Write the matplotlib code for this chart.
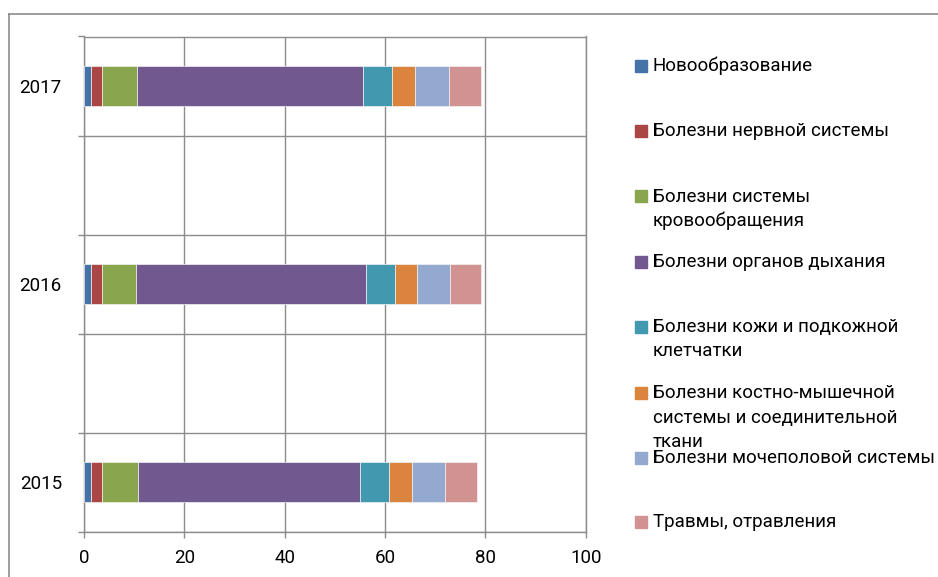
import matplotlib
matplotlib.use("Agg")
import matplotlib.pyplot as plt
from matplotlib.lines import Line2D
from matplotlib.patches import Rectangle
import numpy as np

plt.rcParams['font.family'] = ['Roboto', 'DejaVu Sans']

years = ['2015', '2016', '2017']
series_names = [
    'Новообразование',
    'Болезни нервной системы',
    'Болезни системы\nкровообращения',
    'Болезни органов дыхания',
    'Болезни кожи и подкожной\nклетчатки',
    'Болезни костно-мышечной\nсистемы и соединительной\nткани',
    'Болезни мочеполовой системы',
    'Травмы, отравления',
]
neoplasm    = [1.46, 1.46, 1.46]
nervous     = [2.20, 2.20, 2.20]
circulatory = [7.04, 6.64, 6.84]
respiratory = [44.33, 46.00, 45.20]
skin        = [5.79, 5.78, 5.72]
musculo     = [4.52, 4.39, 4.58]
urogenital  = [6.71, 6.58, 6.85]
injuries    = [6.32, 6.11, 6.31]
series_values = [neoplasm, nervous, circulatory, respiratory, skin, musculo, urogenital, injuries]
colors = ['#4572A7', '#AA4643', '#89A54E', '#71588F', '#4198AF', '#DB843D', '#93A9CF', '#D19392']
x_ticks = [0, 20, 40, 60, 80, 100]

W, H = 938, 577
fig = plt.figure(figsize=(W / 100, H / 100), dpi=100)
ax = fig.add_axes([84 / W, 1 - 531.7 / H, (585.7 - 84) / W, (531.7 - 36.5) / H])

ypos = np.arange(len(years))
left = np.zeros(len(years))
for vals, col in zip(series_values, colors):
    ax.barh(ypos, vals, left=left, height=0.2, color=col, edgecolor='#f2f2f2', linewidth=0.5, zorder=3)
    left += np.array(vals)

grid_col = '#8c8c8c'
ax.set_xlim(0, 100)
ax.set_ylim(-0.25, 2.25)
ax.set_xticks(x_ticks)
ax.set_xticklabels([str(v) for v in x_ticks])
ax.set_yticks(ypos)
ax.set_yticklabels(years)
ax.set_yticks(np.arange(-0.25, 2.3, 0.5), minor=True)
ax.tick_params(axis='y', which='major', length=0, pad=16, labelsize=13.5)
ax.tick_params(axis='y', which='minor', length=4.5, width=1, color=grid_col)
ax.tick_params(axis='x', which='major', length=4.5, width=1, color=grid_col, pad=8, labelsize=13.5)
ax.grid(True, axis='x', which='major', color=grid_col, linewidth=1, zorder=0)
ax.grid(True, axis='y', which='minor', color=grid_col, linewidth=1, zorder=0)
for s in ax.spines.values():
    s.set_color(grid_col)
    s.set_linewidth(1)

# outer chart border (top and left)
fig.add_artist(Line2D([9 / W, 1.0], [1 - 14 / H, 1 - 14 / H], color='#8c8c8c', linewidth=1.2, transform=fig.transFigure))
fig.add_artist(Line2D([9 / W, 9 / W], [1 - 14 / H, 0.0], color='#8c8c8c', linewidth=1.2, transform=fig.transFigure))

# legend drawn manually
marker_y = [66, 131.5, 196.5, 262, 327, 393, 458, 522]
for name, col, my in zip(series_names, colors, marker_y):
    fig.add_artist(Rectangle((635 / W, 1 - (my + 5.5) / H), 11.5 / W, 11.5 / H, color=col, transform=fig.transFigure))
    lines = name.split('\n')
    for i, ln in enumerate(lines):
        yy = my + i * 24.5
        fig.text(653 / W, 1 - yy / H, ln, ha='left', va='center', fontsize=13.5, color='#000000')

fig.savefig('out.png', dpi=100, facecolor='white')
